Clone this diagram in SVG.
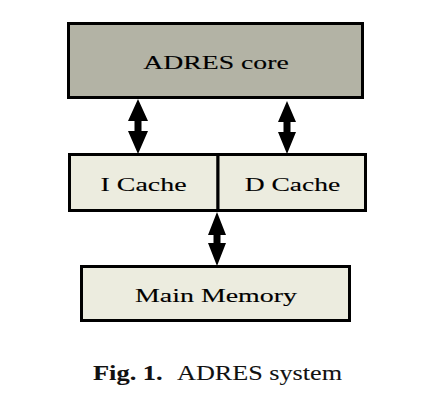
<svg xmlns="http://www.w3.org/2000/svg" width="432" height="403" viewBox="0 0 432 403">
  <style>
    .box { stroke: #000; stroke-width: 3; }
    .core { fill: #b3b3a5; }
    .light { fill: #ececdf; }
    .lbl { font-family: "Liberation Serif", "DejaVu Serif", serif; font-size: 19px; fill: #000; stroke: #000; stroke-width: 0.12; text-anchor: middle; }
    .cap { font-family: "Liberation Serif", "DejaVu Serif", serif; font-size: 22px; fill: #111; stroke: #111; stroke-width: 0.1; }
    .arrow { fill: #000; }
  </style>
  <rect width="432" height="403" fill="#fff"/>
  <g id="adres-core">
    <rect class="box core" x="68.5" y="23.5" width="294" height="74"/>
    <text class="lbl" transform="translate(216,69) scale(1.46,1)" x="0" y="0">ADRES core</text>
  </g>
  <g id="i-cache">
    <rect class="box light" x="69.5" y="154.5" width="148.5" height="56"/>
    <text class="lbl" transform="translate(143.5,191) scale(1.47,1)" x="0" y="0">I Cache</text>
  </g>
  <g id="d-cache">
    <rect class="box light" x="218" y="154.5" width="147.5" height="56"/>
    <text class="lbl" transform="translate(292.5,191) scale(1.45,1)" x="0" y="0">D Cache</text>
  </g>
  <g id="main-memory">
    <rect class="box light" x="81.5" y="266.5" width="268" height="54"/>
    <text class="lbl" transform="translate(216,302) scale(1.47,1)" x="0" y="0">Main Memory</text>
  </g>
  <g id="connectors">
    <path class="arrow" d="M138,99 L148,121 L141.5,121 L141.5,131 L148,131 L138,154 L128,131 L134.5,131 L134.5,121 L128,121 Z"/>
    <path class="arrow" d="M287,101 L296,122 L290.5,122 L290.5,132 L296,132 L287,154 L278,132 L283.5,132 L283.5,122 L278,122 Z"/>
    <path class="arrow" d="M217,212 L226,235 L220.5,235 L220.5,243 L226,243 L217,266 L208,243 L213.5,243 L213.5,235 L208,235 Z"/>
  </g>
  <g id="caption">
    <text class="cap" transform="translate(93,380) scale(1.2,1)" x="0" y="0" font-weight="bold">Fig. 1.</text>
    <text class="cap" transform="translate(177,380) scale(1.19,1)" x="0" y="0">ADRES system</text>
  </g>
</svg>
